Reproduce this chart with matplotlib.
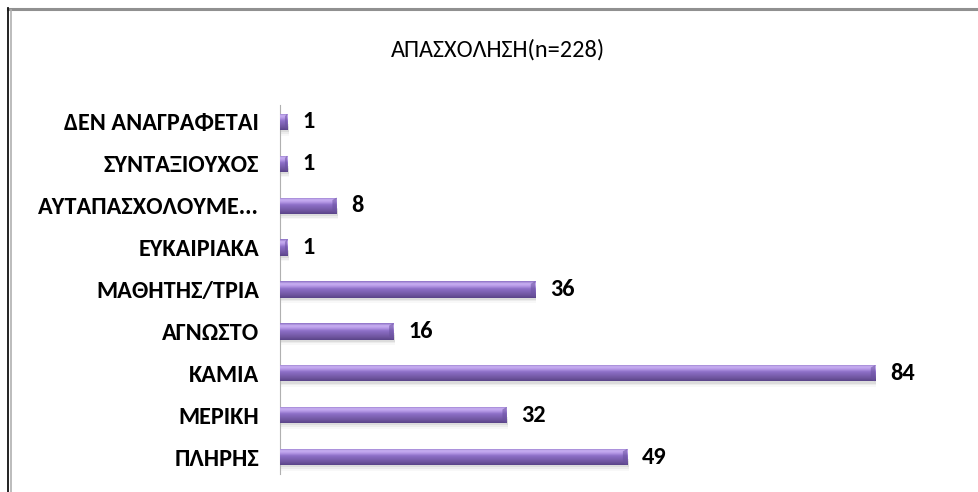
import matplotlib
matplotlib.use("Agg")
import matplotlib.pyplot as plt
import numpy as np
from matplotlib.colors import LinearSegmentedColormap
from matplotlib.patches import Rectangle

plt.rcParams['font.family'] = ['Carlito', 'DejaVu Sans']

title = "ΑΠΑΣΧΟΛΗΣΗ(n=228)"
categories = ["ΠΛΗΡΗΣ", "ΜΕΡΙΚΗ", "ΚΑΜΙΑ", "ΑΓΝΩΣΤΟ", "ΜΑΘΗΤΗΣ/ΤΡΙΑ",
              "ΕΥΚΑΙΡΙΑΚΑ", "ΑΥΤΑΠΑΣΧΟΛΟΥΜΕ...", "ΣΥΝΤΑΞΙΟΥΧΟΣ", "ΔΕΝ ΑΝΑΓΡΑΦΕΤΑΙ"]
values = [49, 32, 84, 16, 36, 1, 8, 1, 1]

fig = plt.figure(figsize=(9.79, 4.92), dpi=100)
W, H = 979, 492
ax = fig.add_axes([280 / W, 1 - 478 / H, (953 - 280) / W, (478 - 101) / H])

bar_h = 0.39
ypos = np.arange(len(categories))
bars = ax.barh(ypos, values, height=bar_h, color="#8b6cc5", edgecolor="none", zorder=3)

# vertical shading for the bevelled look
cmap = LinearSegmentedColormap.from_list(
    "bev", [(0.0, "#5a4488"), (0.18, "#6f559f"), (0.55, "#8e70c8"),
            (0.72, "#b89ce8"), (0.85, "#c9b0f2"), (1.0, "#8c70c4")])
grad = np.linspace(0, 1, 64).reshape(-1, 1)
for b in bars:
    x0, y0 = b.get_x(), b.get_y()
    w, h = b.get_width(), b.get_height()
    # soft shadow below each bar
    for k, a in enumerate([0.10, 0.07, 0.04]):
        ax.add_patch(Rectangle((x0 + 0.2, y0 - 0.05 - 0.04 * k), w, h * 0.5,
                               color="#555555", alpha=a, lw=0, zorder=2))
    im = ax.imshow(grad, cmap=cmap, aspect="auto", origin="lower",
                   extent=(x0, x0 + w, y0, y0 + h), zorder=4, interpolation="bilinear")
    im.set_clip_path(b)
    # darker bevel at the tip
    tip = min(0.6, w * 0.3)
    ax.fill([x0 + w - tip, x0 + w, x0 + w, x0 + w - tip],
            [y0 + h * 0.15, y0, y0 + h, y0 + h * 0.85],
            color="#6a52a0", alpha=0.55, lw=0, zorder=5)
    ax.text(x0 + w + 2.1, y0 + h / 2, f"{int(w)}", va="center", ha="left",
            fontsize=17.5, fontweight="bold", color="black", zorder=6)

ax.set_xlim(0, 95)
ax.set_ylim(-0.5, len(categories) - 0.5)
ax.set_yticks(ypos)
ax.set_yticklabels(categories, fontsize=17.5, fontweight="bold")
ax.tick_params(axis="y", length=0, pad=15)
ax.set_xticks([])
for s in ["top", "right", "bottom"]:
    ax.spines[s].set_visible(False)
ax.spines["left"].set_color("#b0b0b0")
ax.spines["left"].set_linewidth(0.8)
ax.spines["left"].set_bounds(-0.4, len(categories) - 0.6)

fig.text(498 / W, 1 - 50 / H, title, ha="center", va="center", fontsize=17.5)

# outer frame lines
fig.add_artist(plt.Line2D([8 / W, 1], [1 - 9 / H, 1 - 9 / H], color="#909090", lw=2.2,
                          transform=fig.transFigure))
fig.add_artist(plt.Line2D([8.5 / W, 8.5 / W], [0, 1 - 8 / H], color="#111111", lw=1.3,
                          transform=fig.transFigure))
fig.add_artist(plt.Line2D([10.5 / W, 10.5 / W], [0, 1 - 10 / H], color="#b0b0b0", lw=1.2,
                          transform=fig.transFigure))

fig.savefig("out.png", dpi=100)
